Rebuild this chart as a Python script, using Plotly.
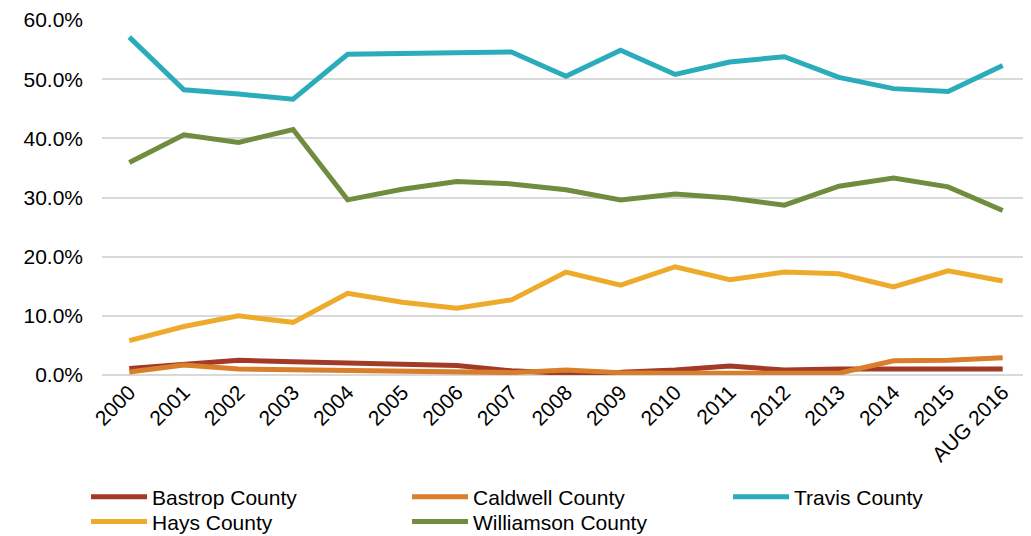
import plotly.graph_objects as go

years = ["2000", "2001", "2002", "2003", "2004", "2005", "2006", "2007", "2008",
         "2009", "2010", "2011", "2012", "2013", "2014", "2015", "AUG 2016"]

bastrop = [1.1, 1.8, 2.5, 2.25, 2.0, 1.75, 1.6, 0.7, 0.3, 0.45, 0.85, 1.5, 0.85, 1.0, 1.1, 1.0, 1.0]
caldwell = [0.5, 1.7, 1.0, 0.9, 0.75, 0.55, 0.45, 0.4, 0.85, 0.4, 0.3, 0.3, 0.3, 0.3, 2.4, 2.5, 2.9]
travis = [57.1, 48.2, 47.5, 46.6, 54.2, 54.4, 54.4, 54.6, 50.5, 54.9, 50.8, 52.9, 53.8, 50.3, 48.4, 47.9, 52.3]
hays = [5.8, 8.2, 10.0, 8.9, 13.8, 12.3, 11.3, 12.7, 17.4, 15.2, 18.3, 16.1, 17.4, 17.1, 14.9, 17.6, 15.9]
williamson = [35.9, 40.6, 39.3, 41.5, 29.6, 31.4, 32.7, 32.3, 31.3, 29.6, 30.6, 29.9, 28.7, 31.9, 33.3, 31.8, 27.8]

y_ticks = [0, 10, 20, 30, 40, 50, 60]
y_tick_labels = [f"{v:.1f}%" for v in y_ticks]

series = [
    ("Bastrop County", bastrop, "#A33A27", "legend"),
    ("Caldwell County", caldwell, "#D97E2A", "legend"),
    ("Travis County", travis, "#2BACBA", "legend"),
    ("Hays County", hays, "#EEAA2A", "legend2"),
    ("Williamson County", williamson, "#708C3E", "legend2"),
]

fig = go.Figure()
for name, vals, color, leg in series:
    fig.add_trace(go.Scatter(
        x=years, y=vals, name=name, mode="lines",
        line=dict(color=color, width=5, shape="linear"),
        legend=leg,
    ))

font_family = "Liberation Sans, Arial, sans-serif"

legend_common = dict(
    orientation="h", x=-0.0172, xanchor="left", yanchor="middle",
    entrywidth=250, entrywidthmode="pixels", itemwidth=56,
    font=dict(family=font_family, size=21, color="#000000"),
    bgcolor="rgba(0,0,0,0)", borderwidth=0,
)

fig.update_layout(
    width=1023, height=528,
    margin=dict(l=94, r=1, t=12, b=161, autoexpand=False),
    paper_bgcolor="white", plot_bgcolor="white",
    font=dict(family=font_family, size=21, color="#000000"),
    xaxis=dict(
        type="category", range=[-0.5, 16.5], tickangle=-45,
        showgrid=False, showline=False, zeroline=False, ticks="",
        tickfont=dict(size=21), automargin=False,
    ),
    yaxis=dict(
        range=[0, 60], tickvals=y_ticks, ticktext=y_tick_labels,
        showgrid=True, gridcolor="#D9D9D9", gridwidth=2,
        zeroline=True, zerolinecolor="#D9D9D9", zerolinewidth=2,
        showline=False, ticks="", ticklabelstandoff=18,
        tickfont=dict(size=21), automargin=False,
    ),
    legend=dict(y=-0.3437, **legend_common),
    legend2=dict(y=-0.414, **legend_common),
    showlegend=True,
)

fig.write_html("out.html")
